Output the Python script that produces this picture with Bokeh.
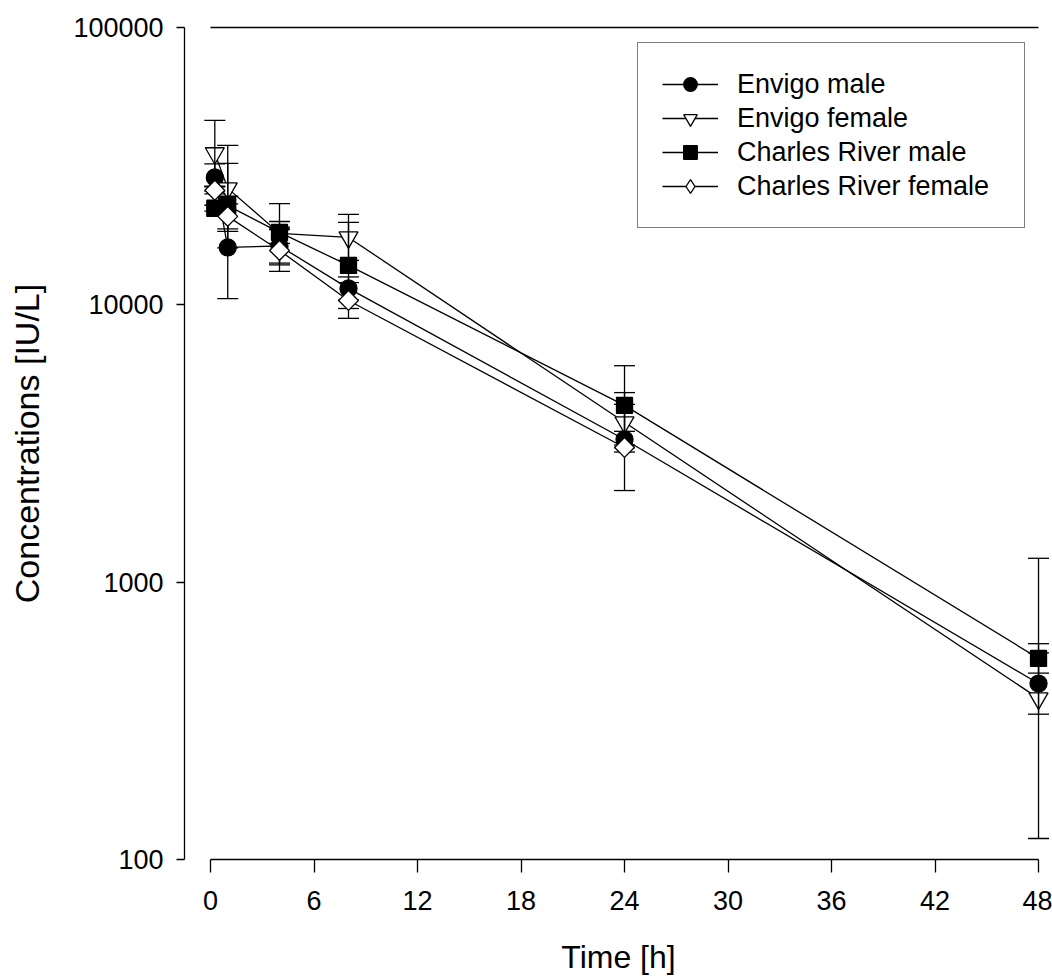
import numpy as np
from bokeh.plotting import figure
from bokeh.models import (Range1d, LinearAxis, FixedTicker, BasicTickFormatter,
                          Legend, LegendItem, ColumnDataSource)
from bokeh.embed import file_html
from bokeh.resources import INLINE

# ---------------- data ----------------
time_h = [0.25, 1, 4, 8, 24, 48]
x_ticks = [0, 6, 12, 18, 24, 30, 36, 42, 48]
y_ticks = [100, 1000, 10000, 100000]

series_names = ["Envigo male", "Envigo female", "Charles River male", "Charles River female"]

# geometric means and geometric SD factors (error bars are mean*gsd, mean/gsd)
envigo_male = [28800, 16100, 16300, 11460, 3270, 431]
envigo_male_gsd = [1.12, 1.53, 1.17, 1.10, 1.07, 1.29]
envigo_female = [35200, 26300, 18100, 17500, 3770, 381]
envigo_female_gsd = [1.315, 1.43, 1.28, 1.21, 1.28, 3.2]
cr_male = [22300, 22800, 18240, 13870, 4340, 531]
cr_male_gsd = [1.025, 1.42, 1.095, 1.43, 1.39, 1.13]
cr_female = [25880, 20840, 15710, 10370, 3060, np.nan]
cr_female_gsd = [1.03, 1.11, 1.19, 1.16, 1.43, np.nan]

FONT = "Liberation Sans"
LW = 1.3

styles = [
    dict(marker="circle", size=17, fill_color="black", angle=0.0),
    dict(marker="inverted_triangle", size=19, fill_color="white", angle=0.0),
    dict(marker="square", size=16, fill_color="black", angle=0.0),
    dict(marker="square", size=14, fill_color="white", angle=np.pi / 4),
]

means = [envigo_male, envigo_female, cr_male, cr_female]
gsds = [envigo_male_gsd, envigo_female_gsd, cr_male_gsd, cr_female_gsd]

sources = []
for m, g in zip(means, gsds):
    m = np.array(m, dtype=float)
    g = np.array(g, dtype=float)
    sources.append(ColumnDataSource(dict(t=time_h, y=m, hi=m * g, lo=m / g)))

p = figure(width=1052, height=978,
           x_range=Range1d(-1.507, 48.81), y_range=Range1d(100, 100000),
           y_axis_type="log", output_backend="svg", toolbar_location=None,
           min_border_left=184, min_border_right=0, min_border_top=27,
           min_border_bottom=119, background_fill_color="white",
           border_fill_color="white")
p.xgrid.visible = False
p.ygrid.visible = False
p.outline_line_color = None

# x axis
xa = p.xaxis[0]
xa.ticker = FixedTicker(ticks=x_ticks)
xa.bounds = (0, 48)
xa.major_tick_out = 13
xa.major_tick_in = 0
xa.minor_tick_line_color = None
xa.axis_line_width = LW
xa.major_tick_line_width = LW
xa.major_label_text_font = FONT
xa.major_label_text_font_size = "27px"
xa.major_label_text_color = "black"
xa.major_label_standoff = 18
xa.axis_label = "Time [h]"
xa.axis_label_text_font = FONT
xa.axis_label_text_font_size = "32px"
xa.axis_label_text_font_style = "normal"
xa.axis_label_text_color = "black"
xa.axis_label_standoff = 26

# y axis
ya = p.yaxis[0]
ya.ticker = FixedTicker(ticks=y_ticks)
ya.formatter = BasicTickFormatter(use_scientific=False)
ya.bounds = (100, 100000)
ya.major_tick_out = 8
ya.major_tick_in = 0
ya.minor_tick_line_color = None
ya.axis_line_width = LW
ya.major_tick_line_width = LW
ya.major_label_text_font = FONT
ya.major_label_text_font_size = "27px"
ya.major_label_text_color = "black"
ya.major_label_standoff = 13
ya.axis_label = "Concentrations [IU/L]"
ya.axis_label_text_font = FONT
ya.axis_label_text_font_size = "34px"
ya.axis_label_text_font_style = "normal"
ya.axis_label_text_color = "black"
ya.axis_label_standoff = 24

# top frame line
top = LinearAxis(bounds=(0, 48), ticker=FixedTicker(ticks=[]),
                 major_tick_line_color=None, minor_tick_line_color=None,
                 major_label_text_font_size="0px", axis_line_width=LW)
p.add_layout(top, "above")

# lines
line_r = []
for src in sources:
    line_r.append(p.line("t", "y", source=src, line_color="black", line_width=LW))

# markers (first three)
marker_r = [None] * 4
for i in range(3):
    st = styles[i]
    marker_r[i] = p.scatter("t", "y", source=sources[i], marker=st["marker"], size=st["size"],
                            angle=st["angle"], fill_color=st["fill_color"],
                            line_color="black", line_width=LW)

# error bars
for src in sources:
    p.segment(x0="t", y0="lo", x1="t", y1="hi", source=src, line_color="black", line_width=LW)
    p.scatter("t", "hi", source=src, marker="dash", size=21, line_color="black", line_width=LW)
    p.scatter("t", "lo", source=src, marker="dash", size=21, line_color="black", line_width=LW)

# legend proxy for the diamond (legend glyphs ignore marker angle); it sits hidden
# under the rotated-square diamonds drawn next
diamond_proxy = p.scatter("t", "y", source=sources[3], marker="diamond", size=18,
                          fill_color="white", line_color="black", line_width=LW)

# diamond markers on top
st = styles[3]
marker_r[3] = p.scatter("t", "y", source=sources[3], marker=st["marker"], size=st["size"],
                        angle=st["angle"], fill_color=st["fill_color"],
                        line_color="black", line_width=LW)

legend_renderers = [marker_r[0], marker_r[1], marker_r[2], diamond_proxy]
items = [LegendItem(label=n, renderers=[line_r[i], legend_renderers[i]])
         for i, n in enumerate(series_names)]
legend = Legend(items=items, location=(453, 631), padding=24, spacing=0,
                glyph_height=34, glyph_width=56, label_height=34, label_width=263,
                label_standoff=19, label_text_font=FONT, label_text_font_size="27px",
                label_text_color="black", border_line_color="black",
                border_line_width=LW, background_fill_alpha=1.0, margin=0)
p.add_layout(legend)

open("out.html", "w").write(file_html(p, INLINE))
